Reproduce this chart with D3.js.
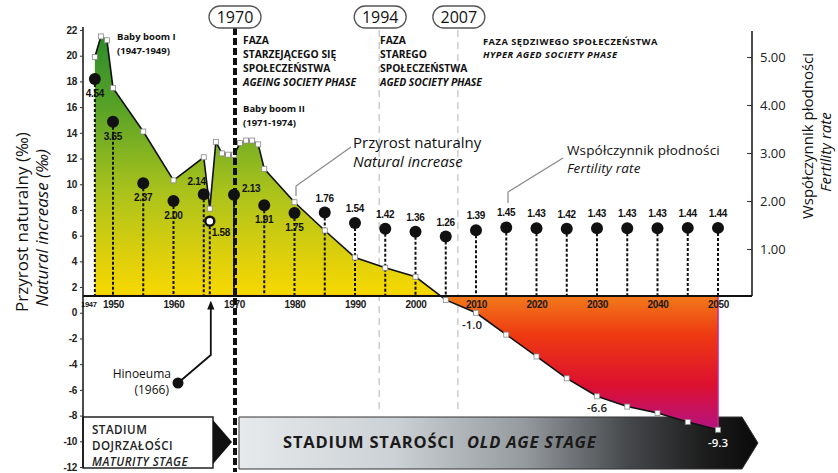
<!DOCTYPE html>
<html><head><meta charset="utf-8">
<script src="https://cdn.jsdelivr.net/npm/d3@7"></script>
<style>
body{margin:0;background:#fff}
svg{display:block}
text{font-family:"Open Sans",sans-serif;fill:#111}
.nar{font-family:"Liberation Sans Narrow","Liberation Sans",Arial,sans-serif;font-weight:bold;letter-spacing:-0.3px}
</style>
</head><body>
<svg id="c" width="838" height="473"></svg>
<script>
// ---------------- DATA ----------------
const niYears = [1947,1948,1949,1950,1955,1960,1965,1966,1967,1968,1969,1970,1971,1972,1973,1974,1975,1980,1985,1990,1995,2000,2005,2010,2015,2020,2025,2030,2035,2040,2045,2050];
const niValues = [19.9,21.5,21.2,17.5,14.1,10.3,12.1,8.1,13.3,12.4,12.3,12.3,13.2,13.4,13.4,13.1,11.2,8.6,6.4,4.3,3.5,2.8,1.0,0.0,-1.7,-3.4,-5.1,-6.5,-7.3,-7.8,-8.5,-9.1];
const tfrYears = [1947,1950,1955,1960,1965,1966,1970,1975,1980,1985,1990,1995,2000,2005,2010,2015,2020,2025,2030,2035,2040,2045,2050];
const tfrValues = [4.54,3.65,2.37,2.00,2.14,1.58,2.13,1.91,1.75,1.76,1.54,1.42,1.36,1.26,1.39,1.45,1.43,1.42,1.43,1.43,1.43,1.44,1.44];
const tfrLabels = ["4.54","3.65","2.37","2.00","2.14","1.58","2.13","1.91","1.75","1.76","1.54","1.42","1.36","1.26","1.39","1.45","1.43","1.42","1.43","1.43","1.43","1.44","1.44"];
const yearTicks = [1950,1960,1970,1980,1990,2000,2010,2020,2030,2040,2050];
const leftTicks = [-12,-10,-8,-6,-4,-2,0,2,4,6,8,10,12,14,16,18,20,22];
const rightTicks = [1,2,3,4,5];
const niNoteYears = [2010,2030,2050];
const niNoteTexts = ["-1.0","-6.6","-9.3"];
const phaseYears = [1970,1994,2007];

// label placement for fertility values (layout, not data)
const tfrPlace = ["b","b","b","b","al","rb","r","b","b","a","a","a","a","a","a","a","a","a","a","a","a","a","a"];

// ---------------- SCALES ----------------
const svg = d3.select("#c");
const x = d3.scaleLinear().domain([1950,2050]).range([113,718]);
const yL = d3.scaleLinear().domain([-12,22]).range([467,30]);
const yR = d3.scaleLinear().domain([0,5]).range([297,57]);
const BASE = 1.3;               // value at which the year axis is drawn
const baseY = yL(BASE);
const axX = 83, axR = 752;

const defs = svg.append("defs");
const ag = defs.append("linearGradient").attr("id","ag")
  .attr("gradientUnits","userSpaceOnUse").attr("x1",0).attr("x2",0).attr("y1",30).attr("y2",435);
[[30,"#2a8a2c"],[110,"#5aa326"],[190,"#a9c21c"],[255,"#dccf0c"],[294,"#f6d800"],[297,"#f2781a"],[335,"#ee3a12"],[385,"#dc1030"],[435,"#b0148c"]]
  .forEach(([p,c])=>ag.append("stop").attr("offset",(p-30)/405).attr("stop-color",c));
const bg = defs.append("linearGradient").attr("id","bg")
  .attr("gradientUnits","userSpaceOnUse").attr("x1",239).attr("x2",758).attr("y1",0).attr("y2",0);
[[0,"#e6eaed"],[0.3,"#ccd1d5"],[0.55,"#959a9f"],[0.75,"#45484b"],[0.9,"#1c1c1c"],[1,"#0a0a0a"]]
  .forEach(([o,c])=>bg.append("stop").attr("offset",o).attr("stop-color",c));
defs.append("marker").attr("id","arr").attr("viewBox","0 0 10 10").attr("refX",5).attr("refY",5)
  .attr("markerWidth",5).attr("markerHeight",6).attr("orient","auto")
  .append("path").attr("d","M0,1 L10,5 L0,9 Z").attr("fill","#111");

// ---------------- PHASE LINES (grey) ----------------
[1994,2007].forEach(yr=>{
  svg.append("line").attr("x1",x(yr)).attr("x2",x(yr)).attr("y1",30).attr("y2",414)
    .attr("stroke","#cfcfcf").attr("stroke-width",1.6).attr("stroke-dasharray","7,5");
});

// ---------------- BOTTOM BANNERS ----------------
svg.append("rect").attr("x",axX).attr("y",417).attr("width",130).attr("height",51)
  .attr("fill","#fff").attr("stroke","#222").attr("stroke-width",1.5);
svg.append("path").attr("d","M213,420 L232,442 L213,464 Z").attr("fill","#111");
[["STADIUM",434,"normal"],["DOJRZAŁOŚCI",450,"normal"],["MATURITY STAGE",466,"italic"]].forEach(([t,y,s])=>{
  svg.append("text").attr("x",92).attr("y",y).attr("font-size",11.6).attr("font-weight",600)
    .attr("letter-spacing",0.5).attr("font-style",s).style("fill","#222").text(t);
});
svg.append("path").attr("d","M239,417 L742,417 L758,443 L742,469 L239,469 Z")
  .attr("fill","url(#bg)").attr("stroke","#333").attr("stroke-width",1);
const bt = svg.append("text").attr("x",283).attr("y",448).attr("font-size",16.5).attr("font-weight",700)
  .attr("letter-spacing",0.8).style("fill","#1a1a1a");
bt.append("tspan").text("STADIUM STAROŚCI");
bt.append("tspan").attr("dx",12).attr("font-style","italic").text("OLD AGE STAGE");

// ---------------- AREA + LINE ----------------
const area = d3.area().x((d,i)=>x(niYears[i])).y0(baseY).y1(d=>yL(d));
svg.append("path").datum(niValues).attr("d",area).attr("fill","url(#ag)");
svg.append("line").attr("x1",x(2050)).attr("x2",x(2050)).attr("y1",baseY).attr("y2",yL(niValues[niValues.length-1]))
  .attr("stroke","#d02090").attr("stroke-width",1.5);

// baseline
svg.append("line").attr("x1",axX).attr("x2",axR).attr("y1",baseY).attr("y2",baseY)
  .attr("stroke","#111").attr("stroke-width",2);

// fertility stems
svg.append("g").selectAll("line").data(tfrValues).join("line")
  .attr("x1",(d,i)=>x(tfrYears[i])).attr("x2",(d,i)=>x(tfrYears[i]))
  .attr("y1",d=>yR(d)).attr("y2",baseY)
  .attr("stroke","#111").attr("stroke-width",2).attr("stroke-dasharray","3,2");

// natural increase line
const line = d3.line().x((d,i)=>x(niYears[i])).y(d=>yL(d));
svg.append("path").datum(niValues).attr("d",line).attr("fill","none").attr("stroke","#111").attr("stroke-width",1.6);
svg.append("g").selectAll("rect").data(niValues).join("rect")
  .attr("x",(d,i)=>x(niYears[i])-2.5).attr("y",d=>yL(d)-2.5).attr("width",5).attr("height",5)
  .attr("fill","#fff").attr("stroke","#888").attr("stroke-width",0.8);

// fertility dots
svg.append("g").selectAll("circle").data(tfrValues).join("circle")
  .attr("cx",(d,i)=>x(tfrYears[i])).attr("cy",d=>yR(d))
  .attr("r",(d,i)=>tfrYears[i]===1966?4.5:6)
  .attr("fill",(d,i)=>tfrYears[i]===1966?"#fff":"#111")
  .attr("stroke","#111").attr("stroke-width",(d,i)=>tfrYears[i]===1966?2.5:0);

// fertility labels
svg.append("g").selectAll("text").data(tfrLabels).join("text").attr("class","nar")
  .attr("font-size",10)
  .attr("x",(d,i)=>{const p=tfrPlace[i],cx=x(tfrYears[i]);return p==="r"?cx+8:p==="rb"?cx+2:p==="al"?cx-7:cx;})
  .attr("y",(d,i)=>{const p=tfrPlace[i],cy=yR(tfrValues[i]);return p==="b"?cy+18:p==="a"?cy-11:p==="al"?cy-9:p==="rb"?cy+15:cy-3;})
  .attr("text-anchor",(d,i)=>(tfrPlace[i]==="r"||tfrPlace[i]==="rb")?"start":"middle")
  .text(d=>d);

// natural increase notes
svg.append("g").selectAll("text").data(niNoteTexts).join("text")
  .attr("x",(d,i)=>x(niNoteYears[i])+(i===0?-4:0))
  .attr("y",(d,i)=>yL(niValues[niYears.indexOf(niNoteYears[i])])+(i===0?16:i===2?17:16))
  .attr("text-anchor","middle")
  .attr("font-size",11.5).attr("font-weight",600)
  .style("fill",(d,i)=>i===2?"#fff":"#222")
  .text(d=>d);

// ---------------- AXES ----------------
// year axis
const xa = svg.append("g").attr("transform",`translate(0,${baseY})`)
  .call(d3.axisBottom(x).tickValues(yearTicks).tickFormat(d=>String(d)).tickSize(0).tickPadding(5));
xa.select(".domain").remove();
xa.selectAll("text").attr("class","nar").attr("font-size",10).style("fill","#1a1a1a");
svg.append("text").attr("class","nar").attr("x",x(1947)-6).attr("y",baseY+11).attr("text-anchor","middle")
  .attr("font-size",7.5).text("1947");

// left axis
svg.append("line").attr("x1",axX).attr("x2",axX).attr("y1",27).attr("y2",468).attr("stroke","#111").attr("stroke-width",1.5);
const la = svg.append("g").attr("transform",`translate(${axX},0)`)
  .call(d3.axisLeft(yL).tickValues(leftTicks).tickFormat(d=>String(d)).tickSize(3).tickPadding(3));
la.select(".domain").remove();
la.selectAll("line").attr("stroke","#333");
la.selectAll("text").attr("class","nar").attr("font-size",10).style("fill","#222");

// right axis
svg.append("line").attr("x1",axR).attr("x2",axR).attr("y1",31).attr("y2",baseY).attr("stroke","#111").attr("stroke-width",1.5);
const ra = svg.append("g").attr("transform",`translate(${axR},0)`)
  .call(d3.axisRight(yR).tickValues(rightTicks).tickFormat(d3.format(".2f")).tickSizeInner(-5).tickSizeOuter(0).tickPadding(8));
ra.select(".domain").remove();
ra.selectAll("line").attr("stroke","#333");
ra.selectAll("text").attr("font-family","Liberation Sans, Arial, sans-serif").attr("font-size",13).style("fill","#222");

// axis titles
function vtext(t,cx,cy,size,style){
  svg.append("text").attr("transform",`translate(${cx},${cy}) rotate(-90)`).attr("text-anchor","middle")
    .attr("dy","0.35em").attr("font-size",size).attr("font-style",style).text(t);
}
vtext("Przyrost naturalny (‰)",22,222,17,"normal");
vtext("Natural increase (‰)",42,228,17,"italic");
vtext("Współczynnik płodności",808,136,15,"normal");
vtext("Fertility rate",826,152,15,"italic");

// ---------------- 1970 LINE + PILLS ----------------
svg.append("line").attr("x1",x(1970)+1).attr("x2",x(1970)+1).attr("y1",28).attr("y2",472)
  .attr("stroke","#111").attr("stroke-width",4).attr("stroke-dasharray","7,3");
phaseYears.forEach(yr=>{
  const cx = x(yr)+1;
  svg.append("rect").attr("x",cx-26).attr("y",6).attr("width",52).attr("height",22).attr("rx",11)
    .attr("fill","#fff").attr("stroke","#555").attr("stroke-width",1.3);
  svg.append("text").attr("x",cx).attr("y",23).attr("text-anchor","middle")
    .attr("font-family","Liberation Sans, Arial, sans-serif").attr("font-size",16).text(yr);
});

// ---------------- ANNOTATION TEXTS ----------------
function block(xp, ys, lines, size, weight, ls){
  lines.forEach((l,i)=>svg.append("text").attr("x",xp).attr("y",ys[i]).attr("font-size",size)
    .attr("font-weight",weight).attr("letter-spacing",ls||0).attr("font-style",l[1]?"italic":"normal").text(l[0]));
}
block(243,[44,58,72,86],[["FAZA"],["STARZEJĄCEGO SIĘ"],["SPOŁECZEŃSTWA"],["AGEING SOCIETY PHASE",1]],10.3,700);
block(380,[44,58,72,86],[["FAZA"],["STAREGO"],["SPOŁECZEŃSTWA"],["AGED SOCIETY PHASE",1]],10.3,700);
block(483,[45,58],[["FAZA SĘDZIWEGO SPOŁECZEŃSTWA"],["HYPER AGED SOCIETY PHASE",1]],9.3,700,0.5);
block(117,[40,54],[["Baby boom I"],["(1947-1949)"]],9.5,700);
block(243,[112,126],[["Baby boom II"],["(1971-1974)"]],9.5,700);
block(353,[148,167],[["Przyrost naturalny"],["Natural increase",1]],15,400);
block(567,[155,173],[["Współczynnik płodności"],["Fertility rate",1]],13.5,400,0.15);

// leaders
svg.append("path").attr("d","M351,147 L296,186 L296,196").attr("fill","none").attr("stroke","#888").attr("stroke-width",1.2);
svg.append("path").attr("d","M563,158 L508,192 L508,203").attr("fill","none").attr("stroke","#888").attr("stroke-width",1.2);

// Hinoeuma
const hx = x(1966)+1;
svg.append("path").attr("d",`M178,383 L${hx},355 L${hx},${baseY+9}`).attr("fill","none")
  .attr("stroke","#111").attr("stroke-width",1.8).attr("marker-end","url(#arr)");
svg.append("circle").attr("cx",178).attr("cy",383).attr("r",5.5).attr("fill","#111");
svg.append("text").attr("x",171).attr("y",378).attr("text-anchor","end").attr("font-size",12).text("Hinoeuma");
svg.append("text").attr("x",169).attr("y",394).attr("text-anchor","end").attr("font-size",12).text("(1966)");
</script>
</body></html>
